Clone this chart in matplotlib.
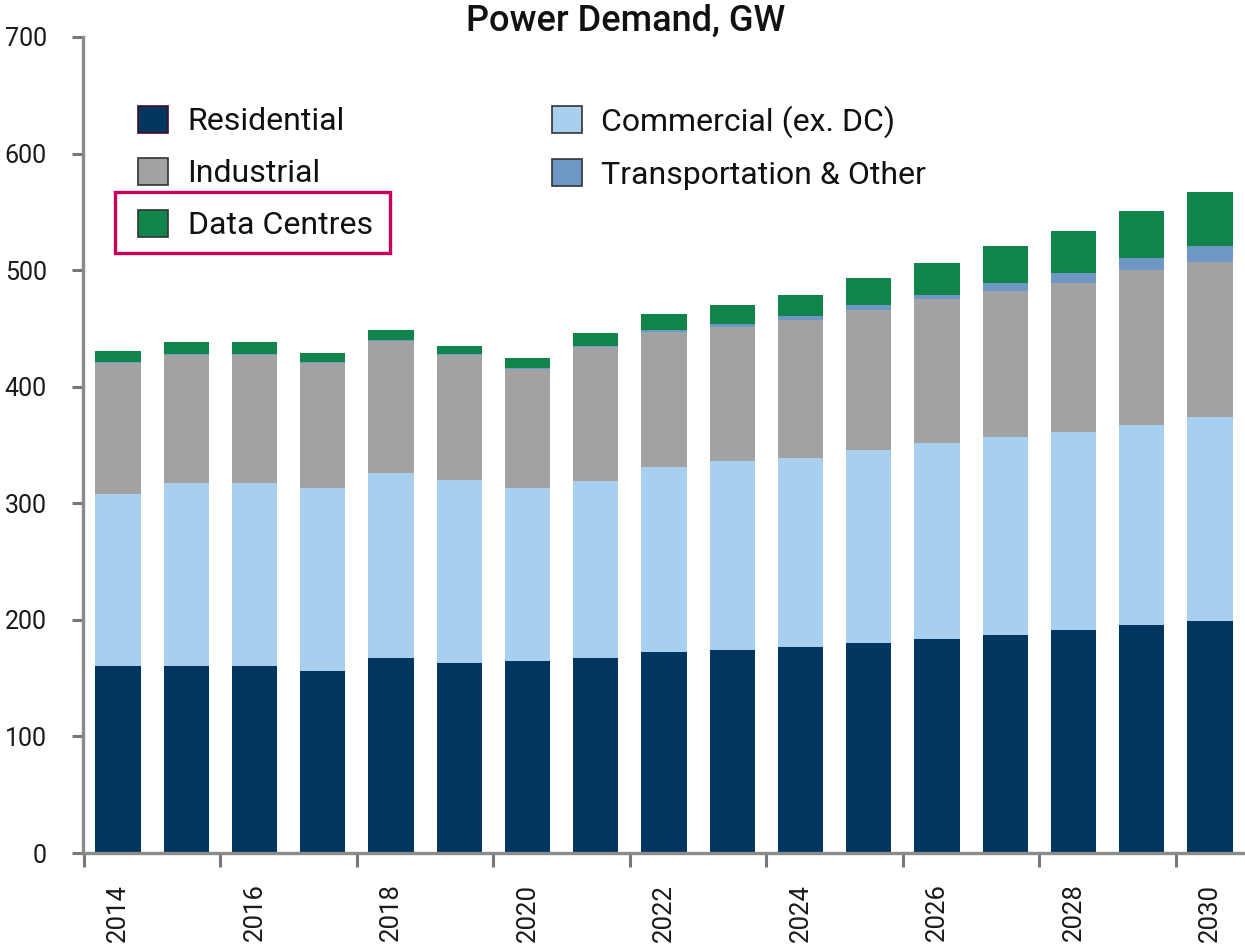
import matplotlib
matplotlib.use("Agg")
import matplotlib.pyplot as plt
import numpy as np
from matplotlib.patches import Patch, Rectangle

plt.rcParams['font.family'] = ['Roboto', 'DejaVu Sans']

years = [2014, 2015, 2016, 2017, 2018, 2019, 2020, 2021, 2022,
         2023, 2024, 2025, 2026, 2027, 2028, 2029, 2030]
residential = [160, 160, 160, 156, 167, 163, 165, 167, 172, 174, 177, 180, 184, 187, 191, 196, 199]
commercial = [148, 157, 157, 157, 159, 157, 148, 152, 159, 162, 162, 166, 168, 170, 170, 171, 175]
industrial = [112, 110, 110, 107, 113, 107, 102, 115, 116, 115, 118, 120, 123, 125, 128, 133, 133]
transport = [1, 1, 1, 1, 1, 1, 1, 1, 1.5, 2.5, 4, 4.5, 4, 7, 8.5, 10, 14]
data_centres = [10, 10, 10, 7.5, 9, 7, 9, 11.5, 13.5, 16.5, 18, 22.5, 27, 31.5, 36.5, 41, 46]

series_names = ["Residential", "Commercial (ex. DC)", "Industrial",
                "Transportation & Other", "Data Centres"]
colors = ["#003660", "#A9CFEF", "#A2A2A2", "#6F97C6", "#10844A"]
y_ticks = [0, 100, 200, 300, 400, 500, 600, 700]
label_years = [2014, 2016, 2018, 2020, 2022, 2024, 2026, 2028, 2030]

W, H = 1245, 947
fig = plt.figure(figsize=(W / 100, H / 100), dpi=100)
ax = fig.add_axes([83 / W, 1 - 853 / H, 1162 / W, 816 / H])

x = np.arange(len(years))
bottom = np.zeros(len(years))
data = [residential, commercial, industrial, transport, data_centres]
for vals, c in zip(data, colors):
    v = np.array(vals, dtype=float)
    ax.bar(x, v, width=0.66, bottom=bottom, color=c, linewidth=0)
    bottom += v

ax.set_ylim(0, 700)
ax.set_xlim(-0.513, len(years) - 1 + 0.513)
ax.set_yticks(y_ticks)
ax.set_yticklabels([str(t) for t in y_ticks], fontsize=18, color="#1a1a1a")

major_pos = [years.index(y) for y in label_years]
ax.set_xticks(major_pos)
ax.set_xticklabels([str(y) for y in label_years], rotation=90, fontsize=18.5, color="#1a1a1a")
ax.set_xticks(np.arange(-0.5, len(years) - 1, 2.0), minor=True)
ax.tick_params(axis='x', which='major', length=0, pad=22)
ax.tick_params(axis='x', which='minor', length=10, width=2.2, color="#777777", direction='out')
ax.tick_params(axis='y', which='major', length=8, width=2.2, color="#777777", direction='out', pad=18)

for s in ['top', 'right']:
    ax.spines[s].set_visible(False)
for s in ['left', 'bottom']:
    ax.spines[s].set_color("#8a8a8a")
    ax.spines[s].set_linewidth(2.4)

fig.text(626 / W, 1 - 21 / H, "Power Demand, GW", ha='center', va='center',
         fontsize=26, fontweight='medium', color="#111111")

edge_cols = ["#4a0a2a", "#333333", "#333333", "#333333", "#333333"]
handles = [Patch(facecolor=colors[i], edgecolor=edge_cols[i], linewidth=1.2, label=series_names[i])
           for i in range(5)]
order = [0, 2, 4, 1, 3]
leg = fig.legend([handles[i] for i in order], [series_names[i] for i in order],
                 loc='upper left', bbox_to_anchor=(138 / W, 1 - 105 / H),
                 bbox_transform=fig.transFigure, ncol=2, frameon=False,
                 fontsize=23, handlelength=0.95, handleheight=0.9,
                 handletextpad=0.6, labelspacing=0.68, columnspacing=5.6,
                 borderpad=0, borderaxespad=0)
for t in leg.get_texts():
    t.set_color("#111111")

fig.patches.append(Rectangle((115 / W, 1 - 253 / H), 275 / W, 61 / H,
                             transform=fig.transFigure, fill=False,
                             edgecolor="#C8005A", linewidth=2.4))

fig.savefig("out.png", dpi=100)
